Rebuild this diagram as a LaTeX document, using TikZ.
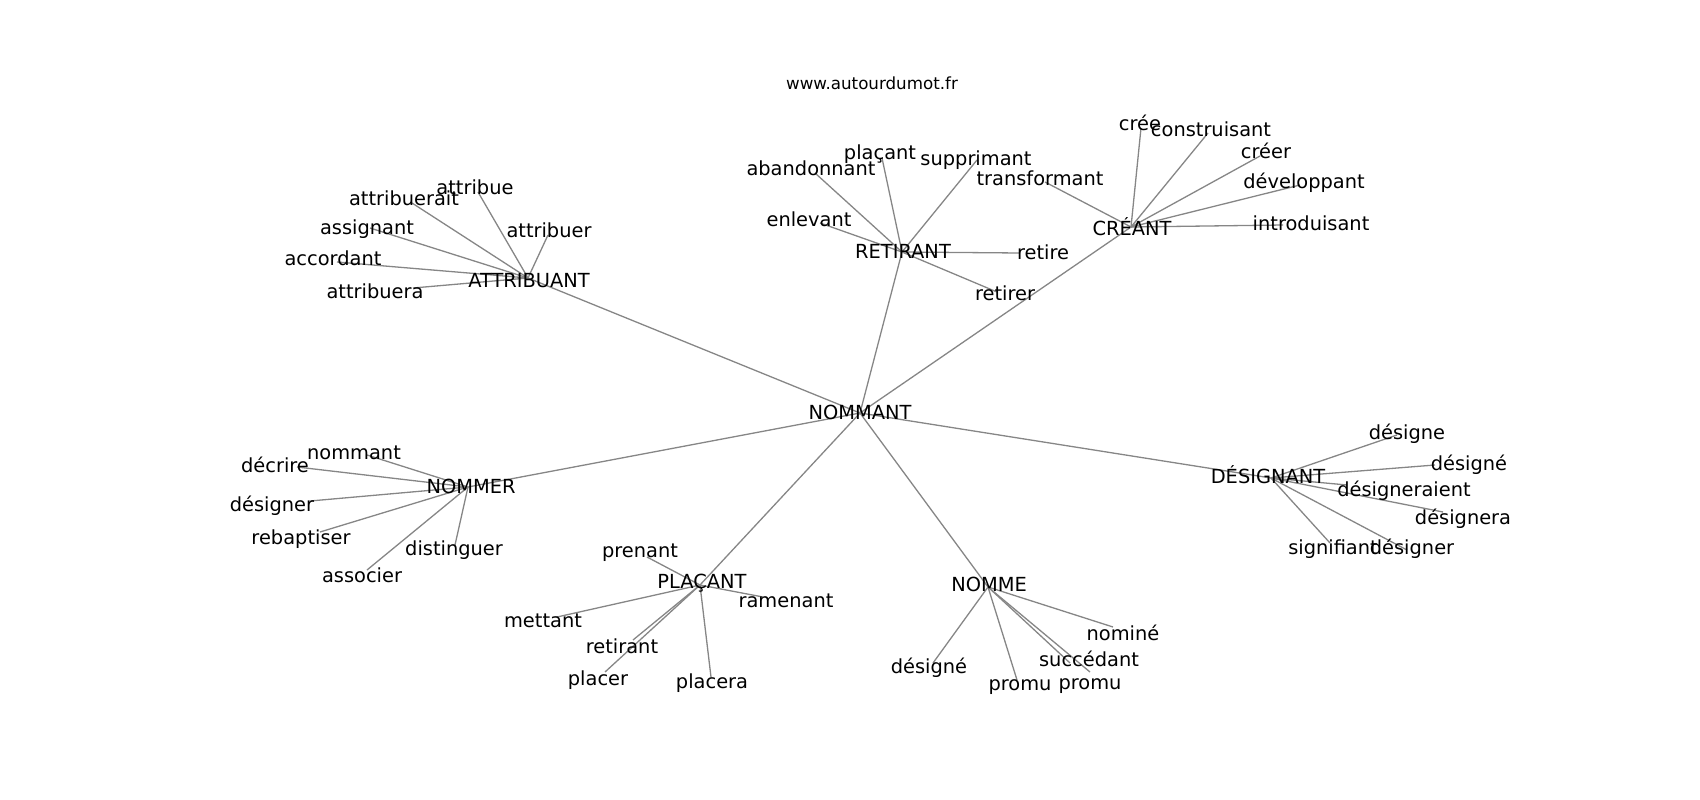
\documentclass[tikz,border=0pt]{standalone}
\usepackage{fontspec}
\setmainfont{DejaVu Sans}
\pgfdeclarelayer{bg}
\pgfsetlayers{bg,main}
\tikzset{
  edge/.style={draw=gray!95, line width=1.3pt},
  lbl/.style={inner sep=0pt, anchor=base, yshift=-7pt, font=\fontsize{19.4}{23}\selectfont, text=black},
  ttl/.style={inner sep=0pt, anchor=base, yshift=-6pt, font=\fontsize{16.7}{20}\selectfont, text=black}
}
% hub: name, text pos, hub pos, text
\newcommand\hubnode[4]{\coordinate (#1) at (#3); \node[lbl] (#1-t) at (#2) {#4};}
% leaf: hub, name, text pos, edge end, text
\newcommand\leafnode[5]{\coordinate (#2) at (#4);
  \begin{pgfonlayer}{bg}\draw[edge] (#1) -- (#2);\end{pgfonlayer}
  \node[lbl] (#2-t) at (#3) {#5};}
\begin{document}
\begin{tikzpicture}[x=1pt,y=-1pt]
\useasboundingbox (0,0) rectangle (1700,800);
\node[ttl] (title) at (872,83) {www.autourdumot.fr};

\hubnode{nommant}{860,412}{860,413}{NOMMANT}
\hubnode{attribuant}{529,280}{528,278}{ATTRIBUANT}
\hubnode{retirant}{903,251}{902,252}{RETIRANT}
\hubnode{creant}{1132,228}{1131,227}{CRÉANT}
\hubnode{designant}{1268,476}{1271,478}{DÉSIGNANT}
\hubnode{nomme}{989,584}{988,587}{NOMME}
\hubnode{placant}{702,581}{700,585}{PLAÇANT}
\hubnode{nommer}{471,486}{468,487}{NOMMER}

\begin{pgfonlayer}{bg}
\foreach \h in {attribuant,retirant,creant,designant,nomme,placant,nommer}
  \draw[edge] (nommant) -- (\h);
\end{pgfonlayer}

% ATTRIBUANT
\leafnode{attribuant}{a1}{475,187}{478,192}{attribue}
\leafnode{attribuant}{a2}{404,198}{412,203}{attribuerait}
\leafnode{attribuant}{a3}{367,227}{370,228}{assignant}
\leafnode{attribuant}{a4}{549,230}{548,235}{attribuer}
\leafnode{attribuant}{a5}{333,258}{337,262}{accordant}
\leafnode{attribuant}{a6}{375,291}{413,288}{attribuera}
% RETIRANT
\leafnode{retirant}{r1}{811,168}{815,173}{abandonnant}
\leafnode{retirant}{r2}{880,152}{882,158}{plaçant}
\leafnode{retirant}{r3}{976,158}{977,160}{supprimant}
\leafnode{retirant}{r4}{809,219}{820,223}{enlevant}
\leafnode{retirant}{r5}{1043,252}{1020,253}{retire}
\leafnode{retirant}{r6}{1005,293}{997,292}{retirer}
% CRÉANT
\leafnode{creant}{c1}{1040,178}{1045,182}{transformant}
\leafnode{creant}{c2}{1140,123}{1141,128}{crée}
\leafnode{creant}{c3}{1211,129}{1208,133}{construisant}
\leafnode{creant}{c4}{1266,151}{1260,156}{créer}
\leafnode{creant}{c5}{1304,181}{1300,185}{développant}
\leafnode{creant}{c6}{1311,223}{1283,225}{introduisant}
% DÉSIGNANT
\leafnode{designant}{d1}{1407,432}{1397,435}{désigne}
\leafnode{designant}{d2}{1469,463}{1435,465}{désigné}
\leafnode{designant}{d3}{1404,489}{1347,485}{désigneraient}
\leafnode{designant}{d4}{1463,517}{1443,512}{désignera}
\leafnode{designant}{d5}{1333,547}{1330,543}{signifiant}
\leafnode{designant}{d6}{1412,547}{1407,550}{désigner}
% NOMME
\leafnode{nomme}{n1}{929,666}{933,663}{désigné}
\leafnode{nomme}{n2}{1020,683}{1017,680}{promu}
\leafnode{nomme}{n3}{1089,659}{1070,663}{succédant}
\leafnode{nomme}{n4}{1090,682}{1090,672}{promu}
\leafnode{nomme}{n5}{1123,633}{1113,627}{nominé}
% PLAÇANT
\leafnode{placant}{p1}{640,550}{647,557}{prenant}
\leafnode{placant}{p2}{786,600}{763,597}{ramenant}
\leafnode{placant}{p3}{543,620}{557,617}{mettant}
\leafnode{placant}{p4}{622,646}{633,640}{retirant}
\leafnode{placant}{p5}{598,678}{605,672}{placer}
\leafnode{placant}{p6}{712,681}{711,677}{placera}
% NOMMER
\leafnode{nommer}{m1}{354,452}{367,455}{nommant}
\leafnode{nommer}{m2}{275,465}{297,467}{décrire}
\leafnode{nommer}{m3}{272,504}{310,501}{désigner}
\leafnode{nommer}{m4}{301,537}{320,532}{rebaptiser}
\leafnode{nommer}{m5}{454,548}{455,545}{distinguer}
\leafnode{nommer}{m6}{362,575}{367,570}{associer}
\end{tikzpicture}
\end{document}
